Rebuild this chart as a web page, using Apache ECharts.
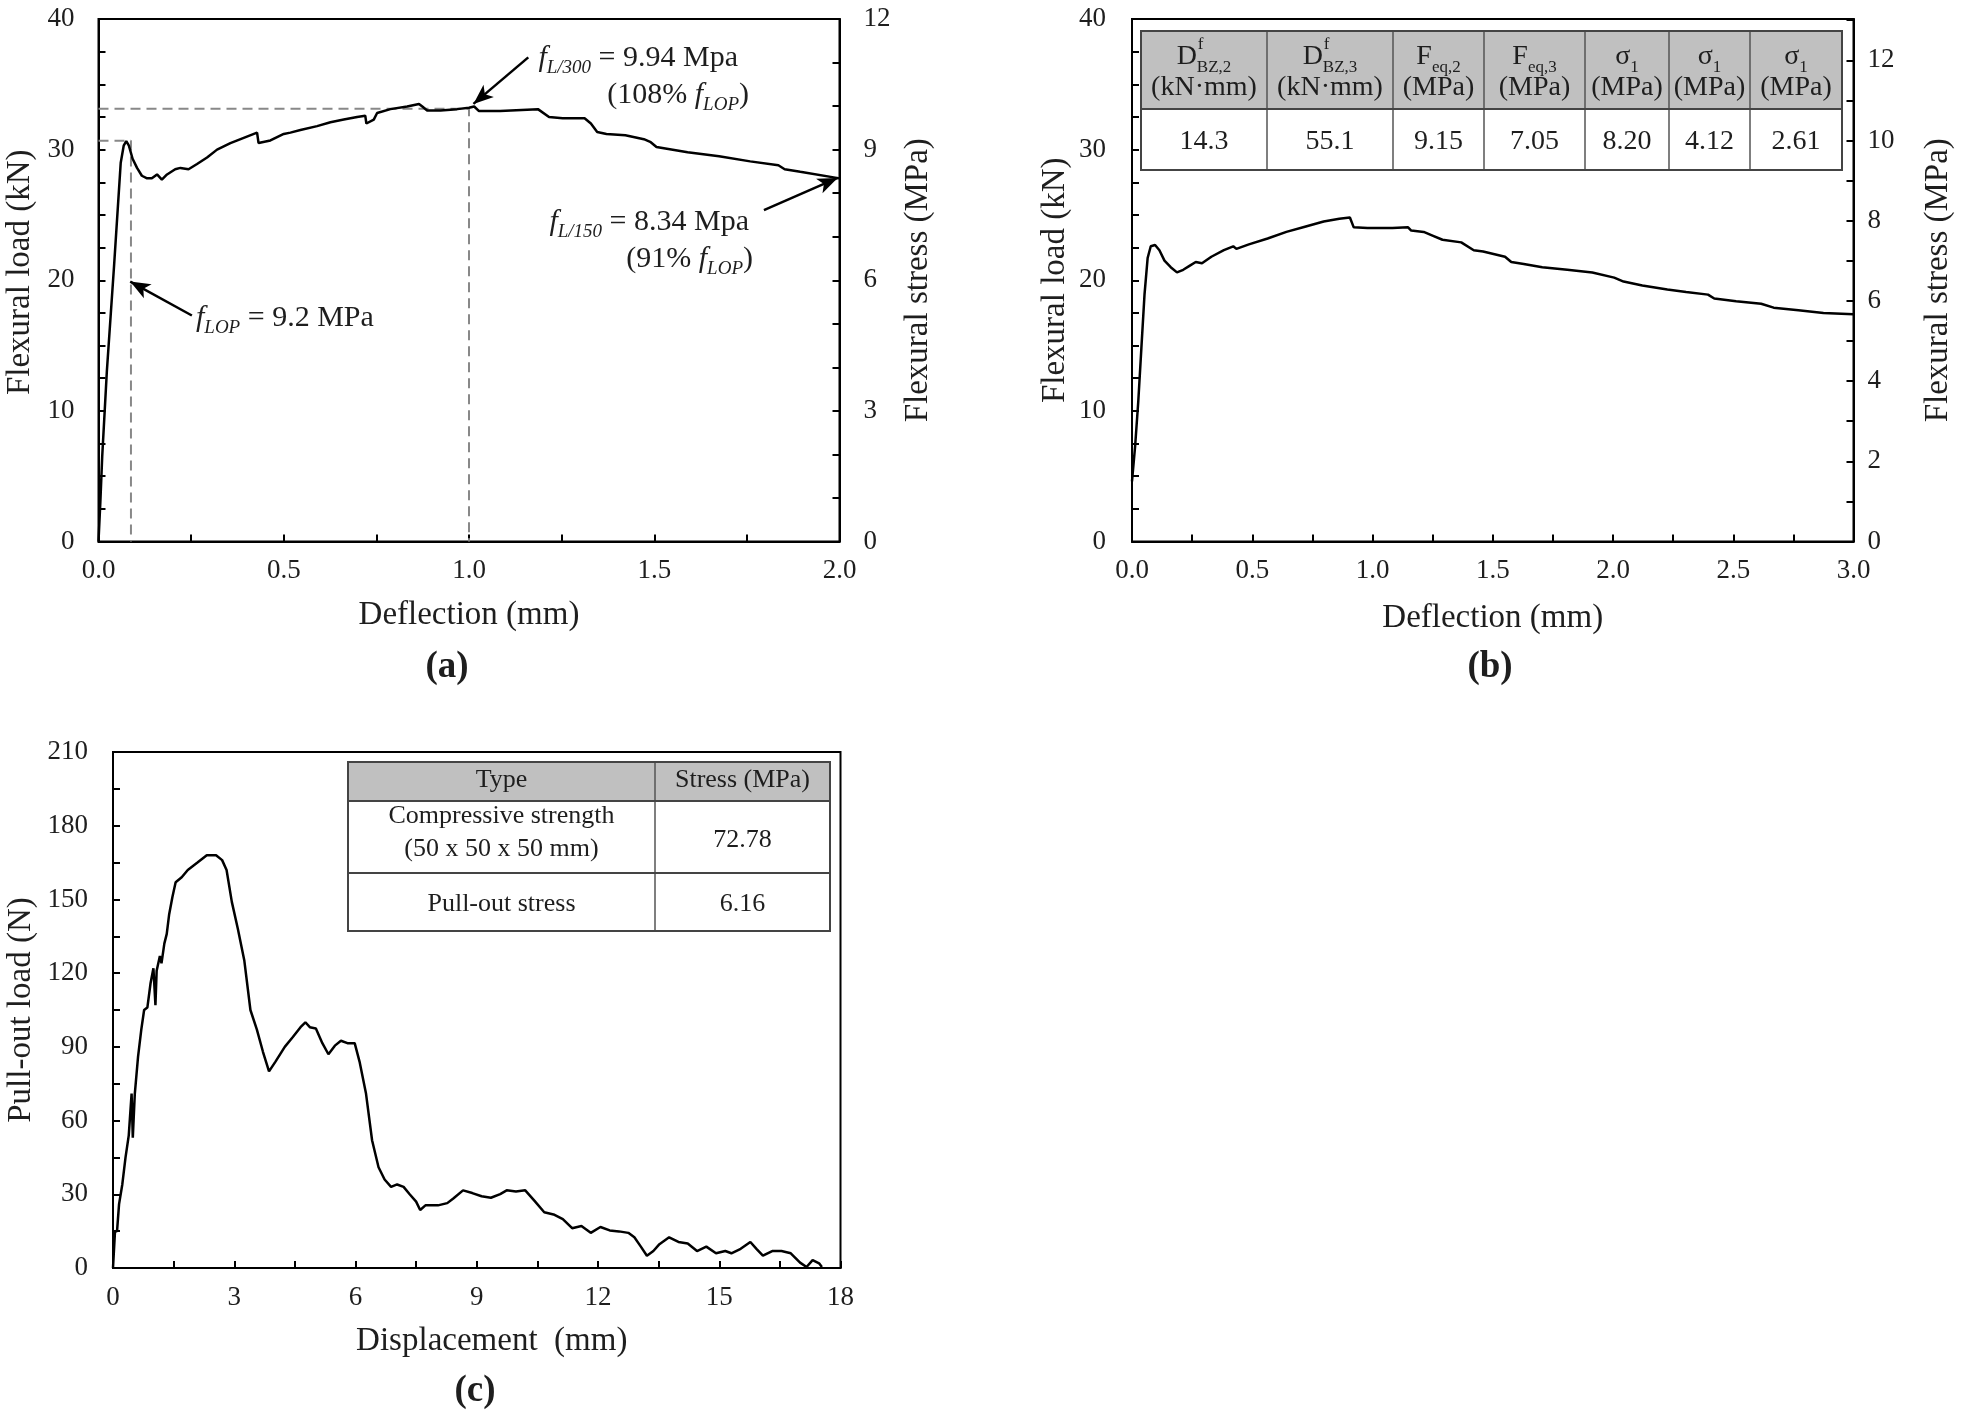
<!DOCTYPE html>
<html>
<head>
<meta charset="utf-8">
<script src="https://cdn.jsdelivr.net/npm/echarts@6/dist/echarts.min.js"></script>
<style>
html,body{margin:0;padding:0;background:#fff;}
#chart{width:1961px;height:1419px;}
</style>
</head>
<body>
<div id="chart"></div>
<script>
// ---------------- DATA ----------------
// Panel (a): deflection (mm) vs flexural load (kN)
const deflA = [0, 0.005, 0.01, 0.0225, 0.042, 0.060, 0.068, 0.075, 0.082, 0.092, 0.104, 0.117, 0.131, 0.144, 0.158, 0.163, 0.171, 0.185, 0.207, 0.221, 0.243, 0.266, 0.293, 0.32, 0.356, 0.392, 0.428, 0.432, 0.464, 0.5, 0.518, 0.545, 0.59, 0.626, 0.662, 0.698, 0.72, 0.723, 0.743, 0.752, 0.788, 0.833, 0.865, 0.874, 0.887, 0.923, 0.968, 1.0, 1.014, 1.027, 1.084, 1.186, 1.216, 1.253, 1.312, 1.329, 1.346, 1.371, 1.422, 1.472, 1.489, 1.506, 1.59, 1.675, 1.759, 1.835, 1.852, 1.894, 2.0];
const loadA = [0, 3, 6.5, 13.0, 21.1, 29.0, 30.3, 30.65, 30.3, 29.3, 28.6, 28.0, 27.8, 27.8, 28.1, 28.2, 27.7, 28.1, 28.5, 28.6, 28.5, 28.9, 29.4, 30.0, 30.5, 30.9, 31.3, 30.5, 30.7, 31.2, 31.3, 31.5, 31.8, 32.1, 32.3, 32.5, 32.6, 32.0, 32.3, 32.8, 33.1, 33.3, 33.5, 33.3, 33.0, 33.0, 33.1, 33.2, 33.3, 32.95, 32.95, 33.1, 32.5, 32.4, 32.4, 32.0, 31.35, 31.2, 31.1, 30.8, 30.6, 30.2, 29.8, 29.5, 29.1, 28.8, 28.5, 28.3, 27.8];
// dashed guide lines in (a)
const lopGuideX = [0, 0.0876, 0.0876];
const lopGuideY = [30.67, 30.67, 0];
const l300GuideX = [0, 1.0, 1.0];
const l300GuideY = [33.13, 33.13, 0];
// arrows in (a): [tailX, tailY, tipX, tipY]
const arrowLOP = [0.252, 17.3, 0.0856, 19.9];
const arrowL300 = [1.16, 37.06, 1.012, 33.5];
const arrowL150 = [1.796, 25.37, 1.995, 27.83];

// Panel (b): deflection (mm) vs flexural load (kN)
const deflB = [0, 0.013, 0.026, 0.039, 0.052, 0.065, 0.078, 0.096, 0.114, 0.135, 0.161, 0.187, 0.213, 0.239, 0.265, 0.291, 0.33, 0.382, 0.421, 0.434, 0.486, 0.564, 0.642, 0.719, 0.797, 0.862, 0.906, 0.922, 0.979, 1.083, 1.148, 1.161, 1.213, 1.252, 1.291, 1.369, 1.421, 1.46, 1.551, 1.577, 1.629, 1.706, 1.81, 1.914, 2.005, 2.044, 2.122, 2.226, 2.304, 2.395, 2.421, 2.512, 2.616, 2.668, 2.771, 2.875, 3.0];
const loadB = [4.6, 7.3, 10.7, 14.8, 18.9, 21.7, 22.6, 22.7, 22.3, 21.5, 21.0, 20.6, 20.8, 21.1, 21.4, 21.3, 21.8, 22.3, 22.6, 22.4, 22.75, 23.2, 23.7, 24.1, 24.5, 24.7, 24.8, 24.05, 24.0, 24.0, 24.05, 23.8, 23.7, 23.4, 23.1, 22.9, 22.3, 22.2, 21.8, 21.4, 21.25, 21.0, 20.8, 20.6, 20.2, 19.9, 19.6, 19.3, 19.1, 18.9, 18.6, 18.4, 18.2, 17.9, 17.7, 17.5, 17.4];
const tableBHead1 = [["D", "f", "BZ,2"], ["D", "f", "BZ,3"], ["F", "", "eq,2"], ["F", "", "eq,3"], ["σ", "", "1"], ["σ", "", "1"], ["σ", "", "1"]];
const tableBHead2 = ["(kN·mm)", "(kN·mm)", "(MPa)", "(MPa)", "(MPa)", "(MPa)", "(MPa)"];
const tableBValues = ["14.3", "55.1", "9.15", "7.05", "8.20", "4.12", "2.61"];

// Panel (c): displacement (mm) vs pull-out load (N)
const dispC = [0, 0.05, 0.1, 0.15, 0.23, 0.31, 0.39, 0.46, 0.49, 0.54, 0.62, 0.7, 0.77, 0.85, 0.93, 1.0, 1.05, 1.08, 1.16, 1.2, 1.27, 1.33, 1.39, 1.47, 1.55, 1.7, 1.85, 2.09, 2.32, 2.55, 2.7, 2.81, 2.94, 3.09, 3.25, 3.4, 3.56, 3.71, 3.86, 4.02, 4.25, 4.45, 4.64, 4.76, 4.87, 5.02, 5.18, 5.33, 5.49, 5.64, 5.8, 5.98, 6.1, 6.26, 6.41, 6.57, 6.72, 6.88, 7.03, 7.19, 7.34, 7.5, 7.6, 7.73, 8.04, 8.27, 8.42, 8.66, 8.89, 9.12, 9.35, 9.58, 9.74, 9.97, 10.2, 10.43, 10.67, 10.9, 11.13, 11.36, 11.59, 11.82, 12.06, 12.29, 12.52, 12.75, 12.9, 13.06, 13.21, 13.37, 13.52, 13.76, 13.99, 14.22, 14.45, 14.68, 14.92, 15.15, 15.3, 15.53, 15.77, 15.92, 16.08, 16.31, 16.54, 16.77, 17.0, 17.16, 17.31, 17.47, 17.54];
const loadC = [0, 15, 15, 26, 34, 45, 54, 71, 53, 71, 86, 97, 105, 106, 116, 122, 107, 121, 127, 124, 132, 136, 144, 151, 157, 159, 162, 165, 168, 168, 166, 162, 149, 138, 125, 105, 97, 88, 80, 84, 90, 94, 98, 100, 98, 97.5, 91.5, 87, 90.5, 92.5, 91.5, 91.5, 84, 71, 52, 41, 36, 33, 34, 33, 30, 27, 23.6, 25.5, 25.5, 26.4, 28.3, 31.6, 30.5, 29.2, 28.6, 30.1, 31.6, 31.1, 31.6, 27.3, 22.7, 21.8, 19.9, 16.2, 17.1, 14.3, 16.7, 15.3, 14.9, 14.3, 12.5, 8.7, 5.0, 6.9, 9.7, 12.5, 10.6, 10.0, 6.9, 8.7, 6.0, 6.9, 6.0, 7.8, 10.6, 7.8, 5.0, 6.9, 6.9, 6.0, 2.2, 0.4, 3.2, 1.9, 0.4];
const tableCHead = ["Type", "Stress (MPa)"];
const tableCRow1 = ["Compressive strength", "(50 x 50 x 50 mm)", "72.78"];
const tableCRow2 = ["Pull-out stress", "6.16"];

// ---------------- CHART ----------------
const FONT = '"Liberation Serif", "Times New Roman", serif';
const TXT = '#1e1e1e';
const zip = (xs, ys) => xs.map((x, i) => [x, ys[i]]);

const chart = echarts.init(document.getElementById('chart'), null, {renderer: 'canvas'});

function axisCommon(extra) {
  return Object.assign({
    type: 'value',
    axisLine: {show: true, onZero: false, lineStyle: {color: '#000', width: 2}},
    axisTick: {show: true, inside: true, length: 7, lineStyle: {color: '#000', width: 2}},
    minorTick: {show: true, length: 7, lineStyle: {color: '#000', width: 2}},
    splitLine: {show: false},
    minorSplitLine: {show: false},
    axisLabel: {color: TXT, fontFamily: FONT, fontSize: 27},
    nameLocation: 'middle',
    nameTextStyle: {color: TXT, fontFamily: FONT, fontSize: 33}
  }, extra);
}
function merge(a, b) {
  const o = Object.assign({}, a);
  for (const k in b) {
    if (b[k] && typeof b[k] === 'object' && !Array.isArray(b[k]) && a[k] && typeof a[k] === 'object') {
      o[k] = Object.assign({}, a[k], b[k]);
    } else o[k] = b[k];
  }
  return o;
}
function ax(extra) { return merge(axisCommon({}), extra); }

const gridStyle = {show: true, borderColor: '#000', borderWidth: 2, backgroundColor: 'transparent'};

// graphic elements (annotations & tables)
const graphics = [];
const rich30 = {
  fi: {fontFamily: FONT, fontSize: 30, fontStyle: 'italic', lineHeight: 38},
  sub: {fontFamily: FONT, fontSize: 19, fontStyle: 'italic', verticalAlign: 'bottom', lineHeight: 19},
  n: {fontFamily: FONT, fontSize: 30, lineHeight: 38}
};
function annot(text, x, y, align) {
  graphics.push({type: 'text', x: x, y: y, z: 100,
    style: {text: text, rich: rich30, fill: TXT, align: align, verticalAlign: 'middle', font: '30px ' + FONT}});
}
annot('{fi|f}{sub|LOP}{n| = 9.2 MPa}', 196, 318, 'left');
annot('{fi|f}{sub|L/300}{n| = 9.94 Mpa}', 738, 58, 'right');
annot('{n|(108% }{fi|f}{sub|LOP}{n|)}', 749, 95, 'right');
annot('{fi|f}{sub|L/150}{n| = 8.34 Mpa}', 749, 222, 'right');
annot('{n|(91% }{fi|f}{sub|LOP}{n|)}', 753, 259, 'right');

// panel labels
[['(a)', 447, 667], ['(b)', 1490, 667], ['(c)', 475, 1391]].forEach(p => {
  graphics.push({type: 'text', x: p[1], y: p[2], z: 100,
    style: {text: p[0], fill: TXT, font: 'bold 37px ' + FONT, align: 'center', verticalAlign: 'middle'}});
});

// measure helper
const mctx = document.createElement('canvas').getContext('2d');
function tw(text, size) { mctx.font = size + 'px ' + FONT; return mctx.measureText(text).width; }

// Table (b)
const tbX = [1141, 1267, 1393, 1484, 1585, 1669, 1750, 1842];
const tbY = [31, 109, 170];
graphics.push({type: 'rect', z: 90, shape: {x: tbX[0], y: tbY[0], width: tbX[7] - tbX[0], height: tbY[1] - tbY[0]},
  style: {fill: '#c0c0c0', stroke: null}});
graphics.push({type: 'rect', z: 90, shape: {x: tbX[0], y: tbY[1], width: tbX[7] - tbX[0], height: tbY[2] - tbY[1]},
  style: {fill: '#ffffff', stroke: null}});
for (let i = 1; i < tbX.length - 1; i++) {
  graphics.push({type: 'line', z: 92, shape: {x1: tbX[i], y1: tbY[0], x2: tbX[i], y2: tbY[2]}, style: {stroke: '#555', lineWidth: 1.5}});
}
graphics.push({type: 'line', z: 92, shape: {x1: tbX[0], y1: tbY[1], x2: tbX[7], y2: tbY[1]}, style: {stroke: '#444', lineWidth: 2}});
graphics.push({type: 'rect', z: 93, shape: {x: tbX[0], y: tbY[0], width: tbX[7] - tbX[0], height: tbY[2] - tbY[0]},
  style: {fill: null, stroke: '#444', lineWidth: 2}});
const TF = 28, TS = 17;
for (let i = 0; i < 7; i++) {
  const cx = (tbX[i] + tbX[i + 1]) / 2;
  const h = tableBHead1[i];
  const wMain = tw(h[0], TF), wSub = tw(h[2], TS);
  const left = cx - (wMain + wSub) / 2;
  graphics.push({type: 'text', z: 95, x: left, y: 57,
    style: {text: '{n|' + h[0] + '}{s|' + h[2] + '}', fill: TXT, align: 'left', verticalAlign: 'middle',
      font: TF + 'px ' + FONT,
      rich: {n: {fontFamily: FONT, fontSize: TF, lineHeight: 38}, s: {fontFamily: FONT, fontSize: TS, lineHeight: 17, verticalAlign: 'bottom'}}}});
  if (h[1]) {
    graphics.push({type: 'text', z: 95, x: left + wMain + 1, y: 45,
      style: {text: h[1], fill: TXT, font: TS + 'px ' + FONT, align: 'left', verticalAlign: 'middle'}});
  }
  graphics.push({type: 'text', z: 95, x: cx, y: 88,
    style: {text: tableBHead2[i], fill: TXT, font: TF + 'px ' + FONT, align: 'center', verticalAlign: 'middle'}});
  graphics.push({type: 'text', z: 95, x: cx, y: 142,
    style: {text: tableBValues[i], fill: TXT, font: TF + 'px ' + FONT, align: 'center', verticalAlign: 'middle'}});
}

// Table (c)
const tcX = [348, 655, 830];
const tcY = [762, 801, 873, 931];
graphics.push({type: 'rect', z: 90, shape: {x: tcX[0], y: tcY[0], width: tcX[2] - tcX[0], height: tcY[1] - tcY[0]},
  style: {fill: '#c0c0c0', stroke: null}});
graphics.push({type: 'rect', z: 90, shape: {x: tcX[0], y: tcY[1], width: tcX[2] - tcX[0], height: tcY[3] - tcY[1]},
  style: {fill: '#ffffff', stroke: null}});
graphics.push({type: 'line', z: 92, shape: {x1: tcX[1], y1: tcY[0], x2: tcX[1], y2: tcY[3]}, style: {stroke: '#555', lineWidth: 1.5}});
graphics.push({type: 'line', z: 92, shape: {x1: tcX[0], y1: tcY[1], x2: tcX[2], y2: tcY[1]}, style: {stroke: '#444', lineWidth: 2}});
graphics.push({type: 'line', z: 92, shape: {x1: tcX[0], y1: tcY[2], x2: tcX[2], y2: tcY[2]}, style: {stroke: '#444', lineWidth: 2}});
graphics.push({type: 'rect', z: 93, shape: {x: tcX[0], y: tcY[0], width: tcX[2] - tcX[0], height: tcY[3] - tcY[0]},
  style: {fill: null, stroke: '#444', lineWidth: 2}});
const c1 = (tcX[0] + tcX[1]) / 2, c2 = (tcX[1] + tcX[2]) / 2;
function ctext(t, x, y) {
  graphics.push({type: 'text', z: 95, x: x, y: y,
    style: {text: t, fill: TXT, font: '26px ' + FONT, align: 'center', verticalAlign: 'middle'}});
}
ctext(tableCHead[0], c1, 780);
ctext(tableCHead[1], c2, 780);
ctext(tableCRow1[0], c1, 816);
ctext(tableCRow1[1], c1, 849);
ctext(tableCRow1[2], c2, 840);
ctext(tableCRow2[0], c1, 904);
ctext(tableCRow2[1], c2, 904);

const blackLine = {color: '#000', width: 2.5};
const dashLine = {color: '#888', width: 2, type: [10, 6]};
const arrowData = [arrowLOP, arrowL300, arrowL150].map(a => [
  {coord: [a[0], a[1]], symbol: 'none'},
  {coord: [a[2], a[3]], symbol: 'arrow'}
]);

const option = {
  animation: false,
  backgroundColor: '#fff',
  grid: [
    Object.assign({left: 98.5, top: 19, width: 741, height: 522.5}, gridStyle),
    Object.assign({left: 1132, top: 19, width: 721.5, height: 522.5}, gridStyle),
    Object.assign({left: 113, top: 752, width: 727.5, height: 516}, gridStyle)
  ],
  xAxis: [
    ax({gridIndex: 0, min: 0, max: 2, interval: 0.5, minorTick: {splitNumber: 2},
      axisLabel: {margin: 16, formatter: v => v.toFixed(1)}, name: 'Deflection (mm)', nameGap: 57}),
    ax({gridIndex: 1, min: 0, max: 3, interval: 0.5, minorTick: {splitNumber: 2},
      axisLabel: {margin: 16, formatter: v => v.toFixed(1)}, name: 'Deflection (mm)', nameGap: 60}),
    ax({gridIndex: 2, min: 0, max: 18, interval: 3, minorTick: {splitNumber: 2},
      axisLabel: {margin: 16}, name: 'Displacement  (mm)', nameGap: 57,
      nameTextStyle: {padding: [0, 0, 0, 30]}})
  ],
  yAxis: [
    ax({gridIndex: 0, position: 'left', min: 0, max: 40, interval: 10, minorTick: {splitNumber: 4},
      axisLabel: {margin: 24}, name: 'Flexural load (kN)', nameGap: 62,
      nameTextStyle: {padding: [0, 0, 0, 16]}}),
    ax({gridIndex: 0, position: 'right', min: 0, max: 12, interval: 3, minorTick: {splitNumber: 3},
      axisLabel: {margin: 24}, name: 'Flexural stress (MPa)', nameGap: 62}),
    ax({gridIndex: 1, position: 'left', min: 0, max: 40, interval: 10, minorTick: {splitNumber: 4},
      axisLabel: {margin: 26}, name: 'Flexural load (kN)', nameGap: 60}),
    ax({gridIndex: 1, position: 'right', min: 0, max: 13.03, interval: 2, minorTick: {splitNumber: 2},
      axisLabel: {margin: 14, showMaxLabel: false}, name: 'Flexural stress (MPa)', nameGap: 68}),
    ax({gridIndex: 2, position: 'left', min: 0, max: 210, interval: 30, minorTick: {splitNumber: 2},
      axisLabel: {margin: 25}, name: 'Pull-out load (N)', nameGap: 75})
  ],
  series: [
    {type: 'line', xAxisIndex: 0, yAxisIndex: 0, data: zip(lopGuideX, lopGuideY), showSymbol: false,
      lineStyle: dashLine, silent: true, z: 2},
    {type: 'line', xAxisIndex: 0, yAxisIndex: 0, data: zip(l300GuideX, l300GuideY), showSymbol: false,
      lineStyle: dashLine, silent: true, z: 2},
    {type: 'line', xAxisIndex: 0, yAxisIndex: 0, data: zip(deflA, loadA), showSymbol: false,
      lineStyle: blackLine, silent: true, z: 3,
      markLine: {silent: true, symbol: ['none', 'arrow'], symbolSize: [12, 20], label: {show: false},
        lineStyle: {color: '#000', width: 2.5, type: 'solid'}, data: arrowData}},
    {type: 'line', xAxisIndex: 1, yAxisIndex: 2, data: zip(deflB, loadB), showSymbol: false,
      lineStyle: blackLine, silent: true, z: 3},
    {type: 'line', xAxisIndex: 2, yAxisIndex: 4, data: zip(dispC, loadC), showSymbol: false,
      lineStyle: blackLine, silent: true, z: 3}
  ],
  graphic: graphics
};
chart.setOption(option);
</script>
</body>
</html>
